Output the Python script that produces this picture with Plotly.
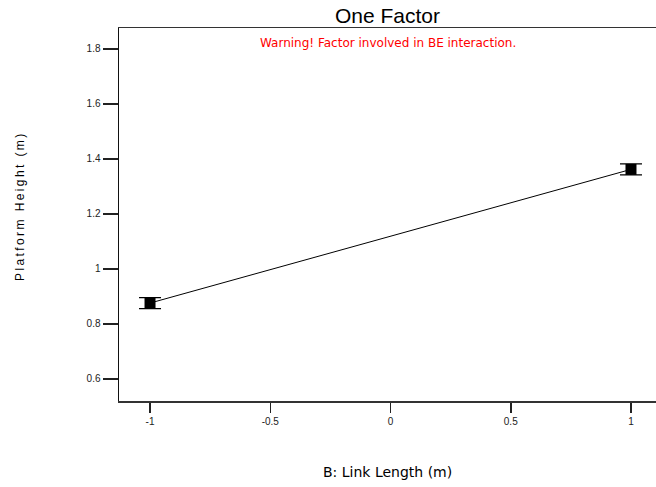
import plotly.graph_objects as go

# Data
x_levels = [-1, 1]
y_means = [0.876, 1.362]
y_err = [0.02, 0.02]
x_ticks = [-1, -0.5, 0, 0.5, 1]
x_tick_labels = ["-1", "-0.5", "0", "0.5", "1"]
y_ticks = [0.6, 0.8, 1.0, 1.2, 1.4, 1.6, 1.8]
y_tick_labels = ["0.6", "0.8", "1", "1.2", "1.4", "1.6", "1.8"]

FONT = "Liberation Sans, Arial, sans-serif"
WIDE = "DejaVu Sans, sans-serif"

fig_w, fig_h = 656, 487
plot_l, plot_t, plot_b = 119, 28, 401  # page pixels

fig = go.Figure()
fig.add_trace(go.Scatter(
    x=x_levels, y=y_means,
    mode="lines+markers",
    line=dict(color="black", width=1),
    marker=dict(symbol="square", size=11, color="black"),
    error_y=dict(type="data", array=y_err, visible=True, color="black",
                 thickness=1.2, width=11),
    showlegend=False,
))

ytitle = "\u2009".join(list("Platform Height (m)"))

H = plot_b - plot_t

fig.update_layout(
    width=fig_w, height=fig_h,
    margin=dict(l=plot_l, r=0, t=plot_t, b=fig_h - plot_b, pad=0),
    paper_bgcolor="white", plot_bgcolor="white",
    font=dict(family=FONT, color="black"),
    hovermode=False,
    xaxis=dict(
        range=[-1.129, 1.104],
        tickvals=x_ticks, ticktext=x_tick_labels,
        ticks="outside", ticklen=10, tickwidth=1.5, tickcolor="#222",
        showline=True, linecolor="#333", linewidth=1.5, mirror=True,
        showgrid=False, zeroline=False,
        tickfont=dict(size=10, color="#222"),
    ),
    yaxis=dict(
        range=[0.52, 1.876],
        tickvals=y_ticks, ticktext=y_tick_labels,
        ticks="outside", ticklen=15, tickwidth=1.5, tickcolor="#222",
        showline=True, linecolor="#111", linewidth=1.5, mirror=False,
        showgrid=False, zeroline=False,
        tickfont=dict(size=10, color="#222"),
    ),
    annotations=[
        dict(text="One Factor", xref="paper", yref="paper",
             x=0.5, y=1, yanchor="middle", yshift=plot_t - 15,
             showarrow=False, font=dict(size=21, color="black")),
        dict(text="Warning! Factor involved in BE interaction.", xref="paper", yref="paper",
             x=0.5, y=1, yanchor="middle", yshift=plot_t - 43,
             showarrow=False, font=dict(family=WIDE, size=12, color="red")),
        dict(text="B: Link Length (m)", xref="paper", yref="paper",
             x=0.5, y=0, yanchor="middle", yshift=plot_b - 472,
             showarrow=False, font=dict(family=WIDE, size=14, color="black")),
        dict(text=ytitle, xref="paper", yref="paper", textangle=-90,
             x=0, xanchor="center", xshift=20 - plot_l,
             y=0.5, yanchor="middle", yshift=(H / 2 + plot_t) - 208,
             showarrow=False, font=dict(size=12, color="black")),
    ],
)

# remove the default 8px body margin so the figure fills the window exactly
fig.write_html("out.html",
               config={"displayModeBar": False, "staticPlot": True},
               post_script="document.body.style.margin='0';document.body.style.overflow='hidden';")
